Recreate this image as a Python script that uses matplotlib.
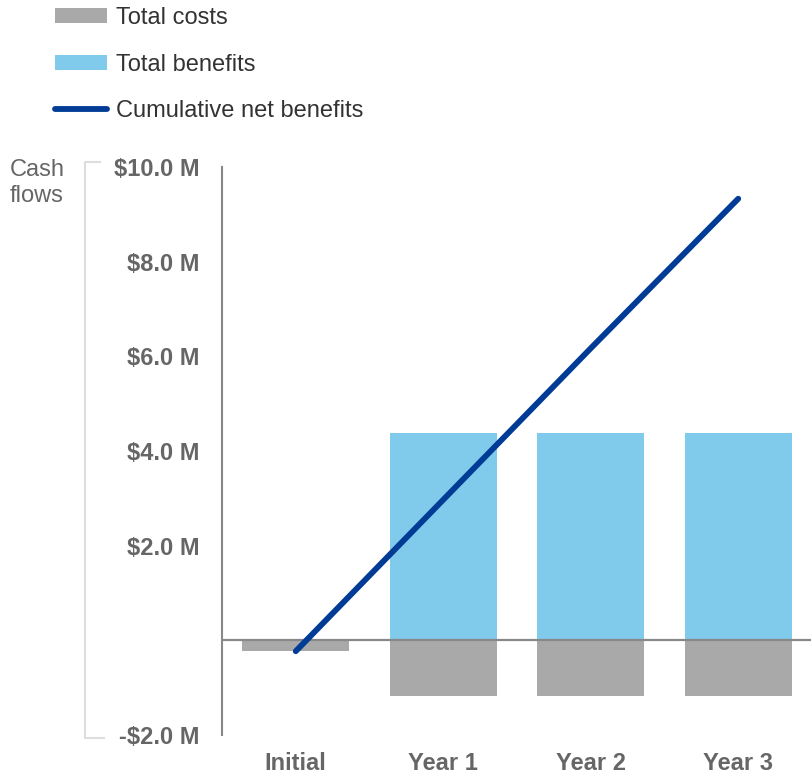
import matplotlib
matplotlib.use("Agg")
import matplotlib.pyplot as plt
from matplotlib.patches import Patch
from matplotlib.lines import Line2D

categories = ["Initial", "Year 1", "Year 2", "Year 3"]
total_costs = [-0.23, -1.18, -1.18, -1.18]
total_benefits = [0.0, 4.38, 4.38, 4.38]
cumulative_net = [-0.23, 2.97, 6.17, 9.33]
y_ticks = [-2, 2, 4, 6, 8, 10]
y_tick_labels = ["-$2.0 M", "$2.0 M", "$4.0 M", "$6.0 M", "$8.0 M", "$10.0 M"]

plt.rcParams['font.family'] = ['Liberation Sans', 'DejaVu Sans']

C_COST = "#A9A9A9"
C_BEN = "#80CBEB"
C_LINE = "#003C96"
C_TXT = "#666666"
FS = 17

fig = plt.figure(figsize=(8.12, 7.76), dpi=100)
ax = fig.add_axes([222/812, 1-735/776, 1-222/812, (735-167)/776])

x = list(range(len(categories)))
w = 0.725
ax.bar(x, total_benefits, width=w, color=C_BEN, zorder=2)
ax.bar(x, total_costs, width=w, color=C_COST, zorder=2)
ax.axhline(0, color="#888888", lw=1.6, zorder=3)
ax.plot(x, cumulative_net, color=C_LINE, lw=4.2, solid_capstyle="round", zorder=4)

ax.set_xlim(-0.5, 3.5)
ax.set_ylim(-2, 10)
ax.set_yticks(y_ticks)
ax.set_yticklabels(y_tick_labels, fontsize=FS, fontweight="bold", color=C_TXT)
ax.set_xticks(x)
ax.set_xticklabels(categories, fontsize=FS, fontweight="bold", color=C_TXT)
ax.tick_params(axis="y", length=0, pad=16)
ax.tick_params(axis="x", length=0, pad=12)
for s in ["top", "right", "bottom"]:
    ax.spines[s].set_visible(False)
ax.spines["left"].set_color("#888888")
ax.spines["left"].set_linewidth(1.5)

# bracket beside "Cash flows"
fx = lambda px: px / 812
fy = lambda py: 1 - py / 776
fig.add_artist(Line2D([fx(100), fx(85), fx(85), fx(104)], [fy(162), fy(162), fy(738), fy(738)],
                      color="#DDDDDD", lw=1.5))
fig.text(fx(37), fy(183), "Cash\nflows", ha="center", va="center", fontsize=FS,
         color=C_TXT, linespacing=1.25)

handles = [Patch(facecolor=C_COST, edgecolor="none"),
           Patch(facecolor=C_BEN, edgecolor="none"),
           Line2D([0], [0], color=C_LINE, lw=4.2, solid_capstyle="round")]
labels = ["Total costs", "Total benefits", "Cumulative net benefits"]
fig.legend(handles, labels, loc="upper left", bbox_to_anchor=(fx(50), fy(2)),
           frameon=False, fontsize=FS, handlelength=2.2, handleheight=0.6,
           handletextpad=0.4, labelspacing=1.05, borderaxespad=0, borderpad=0.2,
           labelcolor="#333333")

fig.savefig("out.png", dpi=100)
